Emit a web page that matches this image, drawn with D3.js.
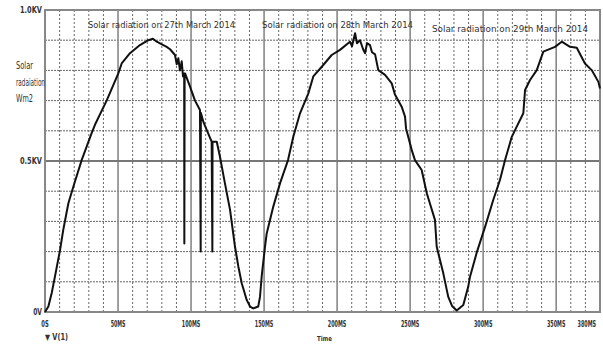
<!DOCTYPE html>
<html>
<head>
<meta charset="utf-8">
<script src="https://cdn.jsdelivr.net/npm/d3@7.9.0/dist/d3.min.js"></script>
<style>
  body { margin: 0; background: #fff; }
  svg text { font-family: "Liberation Sans Narrow", "DejaVu Sans Condensed", sans-serif; fill: #333; }
</style>
</head>
<body>
<svg id="chart" width="603" height="352"></svg>
<script>
// time in ms, voltage in V
const timeMs = [0, 2.3, 4.6, 6.8, 10.3, 12.5, 16, 19.4, 25.1, 32, 34.2, 42.2, 50.2, 52.5, 58.2, 65, 70.7, 73.9, 76.5, 83.3,
  85.6, 89, 90.2, 91.3, 92.4, 93.6, 94.5, 95.3, 95.4, 95.6, 95.9, 99.3, 102.7, 106.1, 106.6, 106.7, 108.4, 110.7, 114.1, 114.6, 114.7,
  117.6, 119.8, 123.2, 126.7, 130.1, 132.4, 134.7, 138.1, 140.4, 142.6, 146, 147.2, 148.4, 150.6, 151.8, 156.3, 160.9, 166.4, 170,
  174.6, 180.3, 183.7, 189.5, 196.3, 202, 208.8, 210.2, 212.3, 213.6, 215.7, 217.8, 219.1, 220.5, 222.5, 223.9, 226, 228.2, 232.8,
  237.4, 239.6, 244.2, 246.5, 247.2, 251.1, 253.3, 257.9, 261.4, 267, 268.2, 272.7, 276.1, 278.7, 281.9, 286.4, 289.8, 291, 295.8,
  301.3, 306.9, 311.5, 315, 319.6, 323, 327.5, 328.7, 332.1, 336.7, 341.2, 349.2, 353.8, 359.5, 364.1, 369.7, 374.3, 378.9, 380];
const voltage = [0, 0.018, 0.063, 0.117, 0.205, 0.272, 0.36, 0.415, 0.503, 0.593, 0.62, 0.70, 0.79, 0.823, 0.857, 0.884, 0.90, 0.905, 0.895, 0.878,
  0.87, 0.851, 0.82, 0.84, 0.80, 0.83, 0.78, 0.79, 0.227, 0.785, 0.79, 0.746, 0.70, 0.669, 0.20, 0.66, 0.63, 0.603, 0.564, 0.20, 0.564,
  0.564, 0.514, 0.426, 0.338, 0.216, 0.15, 0.095, 0.04, 0.018, 0.012, 0.018, 0.05, 0.12, 0.215, 0.26, 0.349, 0.426, 0.503, 0.58,
  0.658, 0.724, 0.78, 0.812, 0.851, 0.868, 0.895, 0.88, 0.923, 0.89, 0.90, 0.87, 0.857, 0.89, 0.884, 0.86, 0.853, 0.801, 0.785,
  0.757, 0.72, 0.68, 0.647, 0.608, 0.536, 0.503, 0.47, 0.393, 0.305, 0.216, 0.128, 0.05, 0.02, 0.005, 0.023, 0.084, 0.117, 0.2,
  0.282, 0.371, 0.437, 0.503, 0.58, 0.614, 0.658, 0.735, 0.768, 0.801, 0.862, 0.878, 0.895, 0.878, 0.875, 0.823, 0.801, 0.762, 0.74];

const xMajor = [0, 50, 100, 150, 200, 250, 300, 350];
const xLabels = ["0S", "50MS", "100MS", "150MS", "200MS", "250MS", "300MS", "350MS", "380MS"];
const xLabelTimes = [0, 50, 100, 150, 200, 250, 300, 350, 380];
const yLabels = ["0V", "0.5KV", "1.0KV"];
const yLabelValues = [0, 0.5, 1.0];
const titles = ["Solar radiation on 27th March 2014", "Solar radiation on 28th March 2014", "Solar radiation on 29th March 2014"];
const titleTimes = [29.4, 148.6, 265];

const svg = d3.select("#chart");
const x = d3.scaleLinear().domain([0, 380]).range([45, 600]);
const y = d3.scaleLinear().domain([0, 1]).range([312, 10]);

// minor dotted grid
const minorX = d3.range(10, 380, 10).filter(t => t % 50 !== 0);
svg.append("g").selectAll("line").data(minorX).join("line")
  .attr("x1", d => x(d)).attr("x2", d => x(d)).attr("y1", y(1)).attr("y2", y(0))
  .attr("stroke", "#666").attr("stroke-width", 1).attr("stroke-dasharray", "2,2");
const minorY = d3.range(1, 10).map(d => d / 10).filter(v => v !== 0.5);
svg.append("g").selectAll("line").data(minorY).join("line")
  .attr("x1", x(0)).attr("x2", x(380)).attr("y1", d => y(d)).attr("y2", d => y(d))
  .attr("stroke", "#666").attr("stroke-width", 1).attr("stroke-dasharray", "2,1");

// major solid grid
svg.append("g").selectAll("line").data(xMajor.slice(1)).join("line")
  .attr("x1", d => x(d)).attr("x2", d => x(d)).attr("y1", y(1)).attr("y2", y(0))
  .attr("stroke", "#888").attr("stroke-width", 1.6);
svg.append("line").attr("x1", x(0)).attr("x2", x(380)).attr("y1", y(0.5)).attr("y2", y(0.5))
  .attr("stroke", "#777").attr("stroke-width", 2);

// frame
svg.append("rect").attr("x", x(0)).attr("y", y(1)).attr("width", x(380) - x(0)).attr("height", y(0) - y(1))
  .attr("fill", "none").attr("stroke", "#888").attr("stroke-width", 2);

// trace
const pts = timeMs.map((t, i) => [t, voltage[i]]);
const line = d3.line().x(d => x(d[0])).y(d => y(d[1]));
svg.append("path").datum(pts).attr("d", line)
  .attr("fill", "none").attr("stroke", "#111").attr("stroke-width", 2).attr("stroke-linejoin", "round");

// y tick labels
svg.append("g").selectAll("text").data(yLabels).join("text")
  .attr("x", 42).attr("y", (d, i) => y(yLabelValues[i]) + 3)
  .attr("text-anchor", "end").attr("font-size", 8).attr("font-weight", "bold")
  .attr("textLength", d => d.length * 4.4).attr("lengthAdjust", "spacingAndGlyphs")
  .text(d => d);

// x tick labels
svg.append("g").selectAll("text").data(xLabels).join("text")
  .attr("x", (d, i) => i === xLabels.length - 1 ? 596 : x(xLabelTimes[i]))
  .attr("y", 327)
  .attr("text-anchor", (d, i) => i === xLabels.length - 1 ? "end" : "middle")
  .attr("font-size", 8).attr("font-weight", "bold")
  .attr("textLength", d => d.length * 3.7).attr("lengthAdjust", "spacingAndGlyphs")
  .text(d => d);

// titles
svg.append("g").selectAll("text").data(titles).join("text")
  .attr("x", (d, i) => x(titleTimes[i]))
  .attr("y", (d, i) => i === 2 ? 32 : 28)
  .attr("font-size", 9)
  .attr("textLength", (d, i) => [147, 151, 156][i]).attr("lengthAdjust", "spacingAndGlyphs")
  .text(d => d);

// y axis title
svg.append("g").selectAll("text").data(["Solar", "radaiation", "Wm2"]).join("text")
  .attr("x", 16).attr("y", (d, i) => 69 + i * 16.5)
  .attr("font-size", 10)
  .attr("textLength", (d, i) => [17, 29, 17][i]).attr("lengthAdjust", "spacingAndGlyphs")
  .text(d => d);

// legend and x title
svg.append("text").attr("x", 45).attr("y", 340).attr("font-size", 8).attr("font-weight", "bold")
  .attr("textLength", 23).attr("lengthAdjust", "spacingAndGlyphs").text("\u25BC V(1)");
svg.append("text").attr("x", 317).attr("y", 341).attr("font-size", 7).attr("font-weight", "bold")
  .attr("textLength", 15).attr("lengthAdjust", "spacingAndGlyphs").text("Time");
</script>
</body>
</html>
